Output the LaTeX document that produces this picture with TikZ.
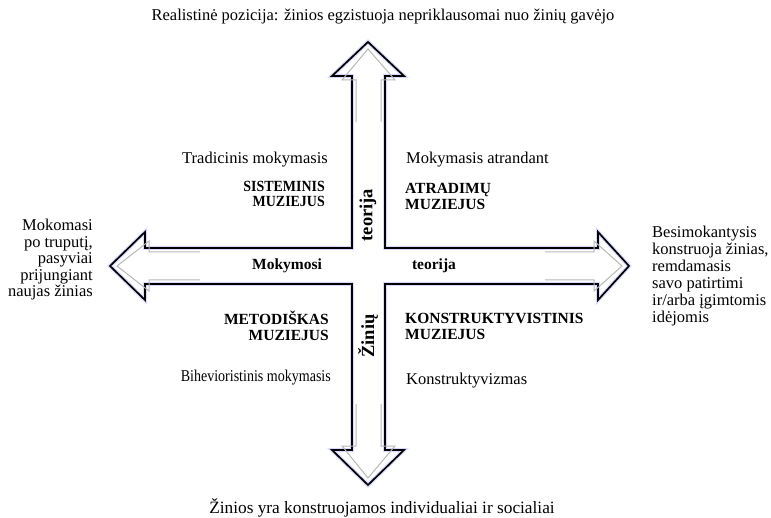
\documentclass[tikz,border=0pt]{standalone}
\usepackage{fontspec}
\setmainfont{Liberation Serif}
\usetikzlibrary{calc}
\tikzset{
	txt/.style={inner sep=0pt, font=\fontsize{16.5}{16.5}\selectfont},
	bold/.style={inner sep=0pt, font=\fontsize{15.5}{16}\selectfont\bfseries},
	vbold/.style={inner sep=0pt, rotate=90, font=\fontsize{18.5}{19}\selectfont\bfseries},
	glow/.style={draw=blue!15, line width=4pt, line join=miter},
	edge/.style={draw=black, line width=1.7pt, line join=miter},
	inner/.style={draw=black!28, line width=1pt, line join=miter}
}

\begin{document}
\begin{tikzpicture}[x=1pt,y=-1pt]
	\useasboundingbox (0,0) rectangle (771,518);

	% the cross of arrows
	\coordinate (C) at (368,266);
	\path[fill=white, glow] (352,248) -- (352,76) -- (332,76) -- (368,42) -- (404,76) -- (385,76)
		-- (385,248) -- (598,248) -- (598,232) -- (629,266) -- (598,300) -- (598,284)
		-- (385,284) -- (385,450) -- (404,450) -- (368,485) -- (332,450) -- (352,450)
		-- (352,284) -- (145,284) -- (145,300) -- (110,266) -- (145,232) -- (145,248) -- cycle;
	\draw[edge] (352,248) -- (352,76) -- (332,76) -- (368,42) -- (404,76) -- (385,76)
		-- (385,248) -- (598,248) -- (598,232) -- (629,266) -- (598,300) -- (598,284)
		-- (385,284) -- (385,450) -- (404,450) -- (368,485) -- (332,450) -- (352,450)
		-- (352,284) -- (145,284) -- (145,300) -- (110,266) -- (145,232) -- (145,248) -- cycle;

	% inner shading lines in the heads
	\draw[inner] (356,122) -- (356,80) -- (342,80) -- (368,49) -- (395,80) -- (381,80) -- (381,122);
	\draw[inner] (356,404) -- (356,446) -- (342,446) -- (368,478) -- (395,446) -- (381,446) -- (381,404);
	\draw[inner] (200,252) -- (149,252) -- (149,241) -- (117,266) -- (149,291) -- (149,280) -- (200,280);
	\draw[inner] (545,252) -- (594,252) -- (594,241) -- (622,266) -- (594,291) -- (594,280) -- (545,280);

	% texts at the arrow ends
	\node[txt] (top) at (383,17) {Realistinė pozicija: žinios egzistuoja nepriklausomai nuo žinių gavėjo};
	\node[txt, font=\fontsize{17.3}{17}\selectfont] (bottom) at (382,508) {Žinios yra konstruojamos individualiai ir socialiai};
	\node[txt, anchor=east, align=right] (left) at (93,260)
		{Mokomasi\\po truputį,\\pasyviai\\prijungiant\\naujas žinias};
	\node[txt, anchor=west, align=left, font=\fontsize{16.5}{17}\selectfont] (right) at (652,276)
		{Besimokantysis\\konstruoja žinias,\\remdamasis\\savo patirtimi\\ir/arba įgimtomis\\idėjomis};

	% axis labels
	\node[bold] (mok) at (287,266) {Mokymosi};
	\node[bold] (teorH) at (434,266) {teorija};
	\node[vbold] (teorV) at (368,215) {teorija};
	\node[vbold] (zin) at (368,336) {Žinių};

	% quadrants
	\node[txt, anchor=east] (trad) at (328,160) {Tradicinis mokymasis};
	\node[bold, anchor=east] (sist) at (325,196)
		{\scalebox{0.9}[1]{\begin{tabular}{@{}r@{}}SISTEMINIS\\[-1pt]MUZIEJUS\end{tabular}}};
	\node[txt, anchor=west] (atr) at (406,160) {Mokymasis atrandant};
	\node[bold, anchor=west, align=left] (atrm) at (405,196) {ATRADIMŲ\\MUZIEJUS};
	\node[bold, anchor=east, align=right] (met) at (329,326) {METODIŠKAS\\MUZIEJUS};
	\node[txt, anchor=east] (bih) at (331,378) {\scalebox{0.85}[1]{Bihevioristinis mokymasis}};
	\node[bold, anchor=west, align=left] (konm) at (405,326) {KONSTRUKTYVISTINIS\\MUZIEJUS};
	\node[txt, anchor=west] (kon) at (406,381) {Konstruktyvizmas};
\end{tikzpicture}
\end{document}
